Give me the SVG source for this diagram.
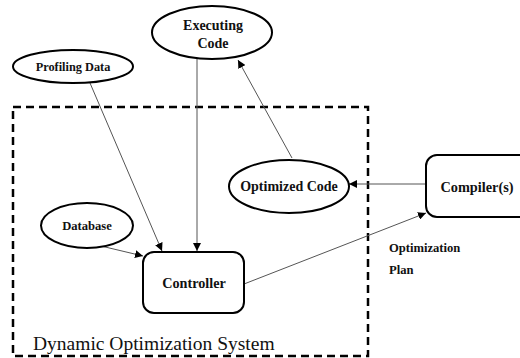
<svg xmlns="http://www.w3.org/2000/svg" width="520" height="358" viewBox="0 0 520 358">
<style>
.node{fill:#fff;stroke:#000;stroke-width:2}
.lbl{font-family:'Liberation Serif','DejaVu Serif','Times New Roman',Times,serif;font-weight:bold;fill:#111;text-anchor:middle}
.cap{font-family:'Liberation Serif','DejaVu Serif','Times New Roman',Times,serif;fill:#111}
.edge{stroke:#555;stroke-width:1;fill:none;marker-end:url(#ah)}
</style>
<defs>
<marker id="ah" markerUnits="userSpaceOnUse" markerWidth="10" markerHeight="8" refX="8" refY="4" orient="auto">
<path d="M0,0 L8,4 L0,8 Z" fill="#000"/>
</marker>
</defs>
<rect width="520" height="358" fill="#fff"/>
<g id="system-boundary">
<rect x="13" y="107" width="355" height="249" fill="none" stroke="#000" stroke-width="2.5" stroke-dasharray="8,5"/>
<text class="cap" x="33" y="350" font-size="19.5">Dynamic Optimization System</text>
</g>
<g id="connectors">
<line class="edge" x1="90" y1="83" x2="162" y2="251"/>
<line class="edge" x1="197" y1="59" x2="197" y2="251"/>
<line class="edge" x1="101" y1="246" x2="143" y2="256"/>
<line class="edge" x1="292" y1="158" x2="238" y2="60"/>
<line class="edge" x1="426" y1="184" x2="349" y2="184"/>
<line class="edge" x1="244" y1="284" x2="426" y2="213"/>
</g>
<g id="executing-code">
<ellipse class="node" cx="212" cy="32.5" rx="60" ry="26.5"/>
<text class="lbl" x="213" y="30" font-size="14">Executing</text>
<text class="lbl" x="213" y="48" font-size="14">Code</text>
</g>
<g id="profiling-data">
<ellipse class="node" cx="73" cy="66.5" rx="60" ry="16.5"/>
<text class="lbl" x="73" y="71" font-size="12.3">Profiling Data</text>
</g>
<g id="optimized-code">
<ellipse class="node" cx="289" cy="186.5" rx="60" ry="26.5"/>
<text class="lbl" x="289" y="191" font-size="14">Optimized Code</text>
</g>
<g id="compilers">
<rect class="node" x="426" y="155" width="104" height="62" rx="11"/>
<text class="lbl" x="477" y="192" font-size="14.3">Compiler(s)</text>
</g>
<g id="database">
<ellipse class="node" cx="87" cy="225.5" rx="46" ry="22.5"/>
<text class="lbl" x="87" y="230" font-size="12.6">Database</text>
</g>
<g id="controller">
<rect class="node" x="143" y="252" width="101" height="61" rx="11"/>
<text class="lbl" x="194" y="288" font-size="14.2">Controller</text>
</g>
<g id="optimization-plan">
<text class="lbl" x="389" y="252" font-size="12.6" style="text-anchor:start">Optimization</text>
<text class="lbl" x="389" y="274" font-size="12.6" style="text-anchor:start">Plan</text>
</g>
</svg>
